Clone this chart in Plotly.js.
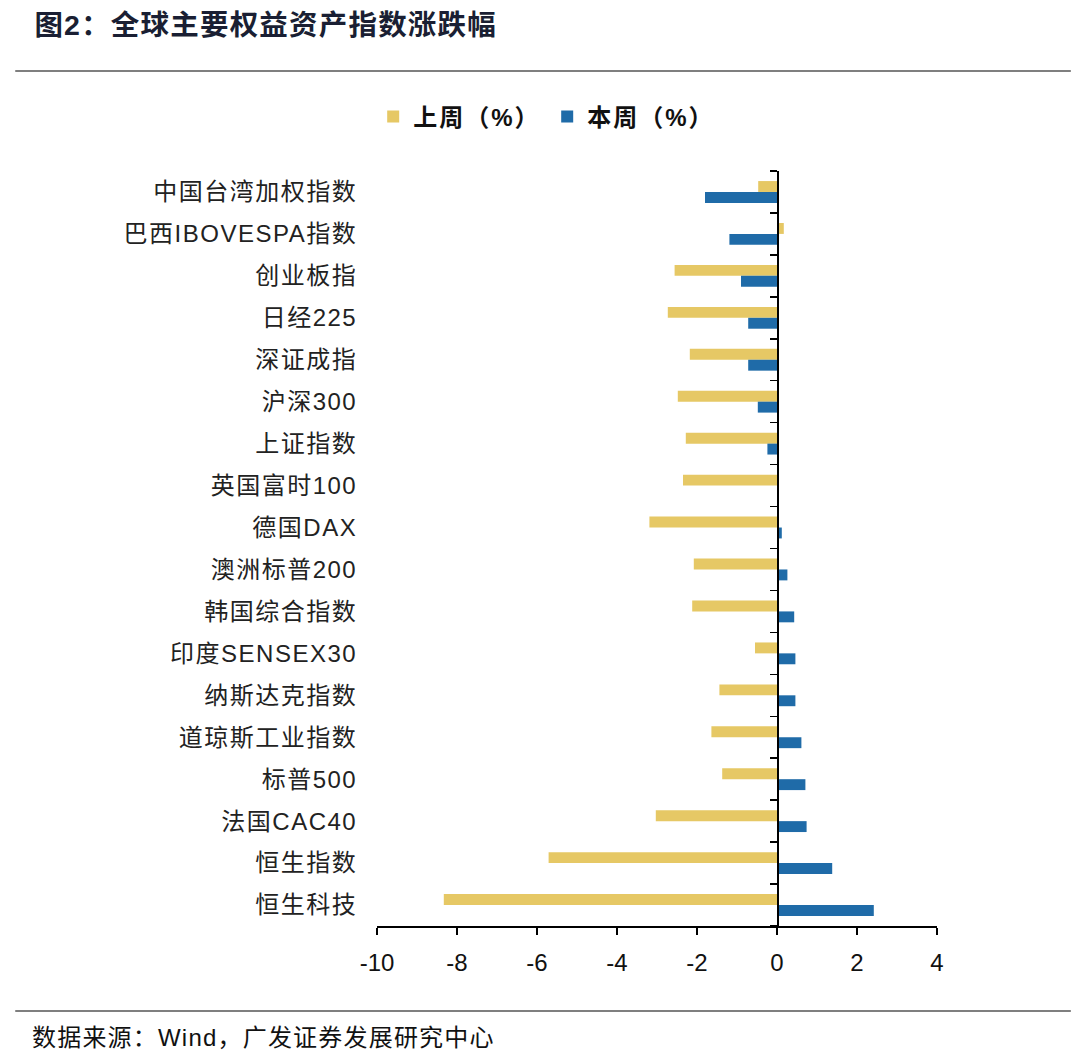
<!DOCTYPE html>
<html>
<head>
<meta charset="utf-8">
<script src="https://cdn.plot.ly/plotly-3.0.1.min.js"></script>
<style>
html,body{margin:0;padding:0;background:#fff;}
#chart{width:1080px;height:1058px;}
#chart .ytick text{letter-spacing:1.5px;}
#chart .legendtext{letter-spacing:2px;}
#chart .annotation-text{letter-spacing:1.2px;}
</style>
</head>
<body>
<div id="chart"></div>
<script>
// ---- data ----
const categories = ['中国台湾加权指数','巴西IBOVESPA指数','创业板指','日经225','深证成指','沪深300','上证指数','英国富时100','德国DAX','澳洲标普200','韩国综合指数','印度SENSEX30','纳斯达克指数','道琼斯工业指数','标普500','法国CAC40','恒生指数','恒生科技'];
const lastWeek = [-0.47, 0.17, -2.56, -2.73, -2.18, -2.48, -2.28, -2.35, -3.19, -2.08, -2.12, -0.55, -1.44, -1.64, -1.37, -3.03, -5.71, -8.33];
const thisWeek = [-1.80, -1.19, -0.90, -0.72, -0.72, -0.48, -0.24, 0.0, 0.12, 0.26, 0.43, 0.46, 0.46, 0.61, 0.71, 0.74, 1.38, 2.42];
const seriesNames = ['上周（%）', '本周（%）'];
const xTicks = [-10, -8, -6, -4, -2, 0, 2, 4];
const titleText = '图2：全球主要权益资产指数涨跌幅';
const sourceText = '数据来源：Wind，广发证券发展研究中心';

const FONT = 'Liberation Sans, Arial, Noto Sans CJK SC, sans-serif';
const xMin = -10, xMax = 4;

const traces = [
  {type:'bar', orientation:'h', name:seriesNames[0], y:categories, x:lastWeek,
   marker:{color:'#E6C865'}, hoverinfo:'x+y'},
  {type:'bar', orientation:'h', name:seriesNames[1], y:categories, x:thisWeek,
   marker:{color:'#1F6BA8'}, hoverinfo:'x+y'},
  // helper trace so the zero-positioned category-boundary axis is drawn
  {type:'scatter', mode:'lines', x:[0,0], y:[-0.5, categories.length-0.5], yaxis:'y2',
   line:{color:'rgba(0,0,0,0)'}, showlegend:false, hoverinfo:'skip'}
];

const layout = {
  width:1080, height:1058,
  margin:{l:377, r:143, t:171, b:132},
  paper_bgcolor:'#fff', plot_bgcolor:'#fff',
  barmode:'group', bargap:0.48, bargroupgap:0,
  font:{family:FONT, color:'#111'},
  showlegend:true,
  legend:{orientation:'h', x:-0.0068, xanchor:'left', y:1.0715, yanchor:'middle',
          font:{family:FONT, size:24, color:'#111', weight:'bold'},
          traceorder:'normal', entrywidth:129, bgcolor:'rgba(0,0,0,0)'},
  xaxis:{range:[xMin, xMax], tickvals:xTicks, ticktext:xTicks.map(String),
         showgrid:false, zeroline:false, showline:true, linecolor:'#000', linewidth:1.5,
         ticks:'outside', ticklen:7, tickwidth:1.5, tickcolor:'#000', ticklabelstandoff:8,
         tickfont:{family:FONT, size:24, color:'#111'}, fixedrange:true},
  yaxis:{type:'category', categoryorder:'array', categoryarray:categories,
         autorange:'reversed', showgrid:false, zeroline:false, showline:false,
         ticks:'outside', ticklen:14, tickcolor:'rgba(0,0,0,0)',
         tickfont:{family:FONT, size:24, color:'#222'}, fixedrange:true},
  yaxis2:{overlaying:'y', anchor:'free', position:(0 - xMin)/(xMax - xMin), side:'left',
          range:[categories.length-0.5, -0.5],
          tickvals:Array.from({length:categories.length+1}, (_, i) => i - 0.5),
          showticklabels:false, showgrid:false, zeroline:false,
          showline:true, linecolor:'#000', linewidth:1.5,
          ticks:'outside', ticklen:7, tickwidth:1.5, tickcolor:'#000', fixedrange:true},
  annotations:[
    {xref:'paper', yref:'paper', x:-0.5977, y:1.1934, xanchor:'left', yanchor:'middle',
     text:'<b>'+titleText+'</b>', showarrow:false,
     font:{family:FONT, size:28.5, color:'#1a1f33'}},
    {xref:'paper', yref:'paper', x:-0.5977, y:-0.1476, xanchor:'left', yanchor:'middle',
     text:sourceText, showarrow:false,
     font:{family:FONT, size:24, color:'#111'}}
  ],
  shapes:[
    {type:'line', xref:'paper', yref:'paper', x0:-0.646, x1:1.239, y0:1.1325, y1:1.1325,
     line:{color:'#555', width:1.5}},
    {type:'line', xref:'paper', yref:'paper', x0:-0.646, x1:1.239, y0:-0.1126, y1:-0.1126,
     line:{color:'#555', width:1.5}}
  ]
};

Plotly.newPlot('chart', traces, layout, {displayModeBar:false, staticPlot:true});
</script>
</body>
</html>
